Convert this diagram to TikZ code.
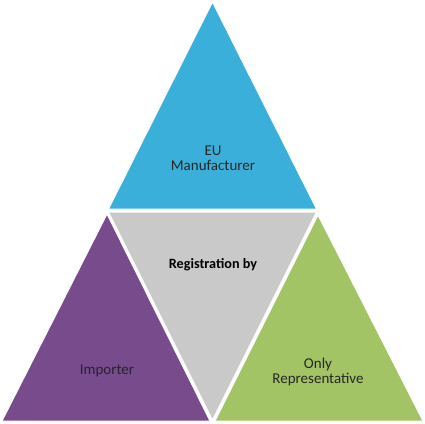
\documentclass[tikz,border=0pt]{standalone}
\usepackage{fontspec}
\setmainfont{Carlito}
\usepackage{xcolor}
\usetikzlibrary{calc,positioning}
\definecolor{euBlue}{HTML}{3AAFD9}
\definecolor{impPurple}{HTML}{774B8C}
\definecolor{onlyGreen}{HTML}{A2C465}
\definecolor{regGrey}{HTML}{C9C9C9}
\definecolor{txtDark}{HTML}{262626}

\begin{document}
\begin{tikzpicture}[x=1pt, y=-1pt]
		\tikzstyle{every node}=[font=\fontsize{15}{15}\selectfont, text=txtDark, align=center]
		\tikzstyle{tri}=[draw=white, line width=1pt, line join=miter]
		\useasboundingbox (0,0) rectangle (425,423);
		\fill [white] (0,0) rectangle (425,423);
		\fill [tri, fill=euBlue] (212.5,2) -- (316.5,209) -- (108.5,209) -- cycle;
		\fill [tri, fill=regGrey] (108.5,212) -- (316.5,212) -- (212.5,420) -- cycle;
		\fill [tri, fill=impPurple] (107,214) -- (210,421) -- (2,421) -- cycle;
		\fill [tri, fill=onlyGreen] (318,215) -- (423,421) -- (215,421) -- cycle;
		\node (manuf) at (213,158) {EU\\Manufacturer};
		\node [font=\fontsize{14.2}{15}\selectfont\bfseries, text=black] (regby) at (213,265) {Registration by};
		\node (importer) at (107,371) {Importer};
		\node (onlyrep) at (318,372) {Only\\Representative};
\end{tikzpicture}
\end{document}
